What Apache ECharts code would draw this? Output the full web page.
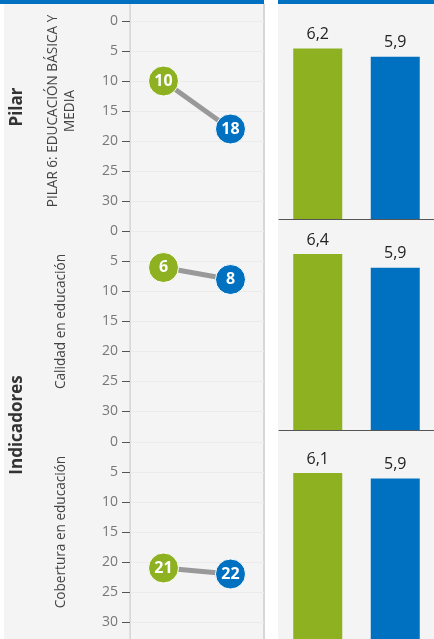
<!DOCTYPE html>
<html>
<head>
<meta charset="utf-8">
<script src="https://cdn.jsdelivr.net/npm/echarts@6/dist/echarts.min.js"></script>
<style>
html,body{margin:0;padding:0;background:#fff;}
#chart{width:434px;height:639px;}
</style>
</head>
<body>
<div id="chart"></div>
<script>
// ---- data ----
const periods = ['Periodo 1', 'Periodo 2'];
const panelTitles = ['PILAR 6: EDUCACIÓN BÁSICA Y\nMEDIA', 'Calidad en educación', 'Cobertura en educación'];
const groupLabels = ['Pilar', 'Indicadores'];
const rankValues = [[10, 18], [6, 8], [21, 22]];
const scoreValues = [[6.2, 5.9], [6.4, 5.9], [6.1, 5.9]];
const rankMin = 0, rankMax = 30, rankStep = 5;
const scoreMax = 7;

const GREEN = '#8db121';
const BLUE = '#0070c0';
const FONT = 'Open Sans';
const colors = [GREEN, BLUE];

const chart = echarts.init(document.getElementById('chart'));

const grid = [], xAxis = [], yAxis = [], series = [];
const panelStep = 210.5;

panelTitles.forEach((title, i) => {
  // left: rank panel
  grid.push({left: 130, width: 134, top: 21 + panelStep * i, height: 180});
  xAxis.push({
    gridIndex: grid.length - 1, type: 'category', data: periods, boundaryGap: true,
    axisLine: {show: false}, axisTick: {show: false}, axisLabel: {show: false}
  });
  yAxis.push({
    gridIndex: grid.length - 1, type: 'value', inverse: true,
    min: rankMin, max: rankMax, interval: rankStep,
    name: title, nameLocation: 'middle', nameRotate: 90,
    nameGap: i === 0 ? 51 : 60,
    nameTextStyle: {fontFamily: FONT, fontSize: 13.6, color: '#444', lineHeight: 17},
    axisLine: {show: false},
    axisTick: {show: true, length: 8, lineStyle: {color: '#555'}},
    axisLabel: {fontFamily: FONT, fontSize: 14, color: '#777', margin: 12},
    splitLine: {show: true, lineStyle: {color: '#ebebeb'}}
  });
  series.push({
    type: 'line', xAxisIndex: grid.length - 1, yAxisIndex: grid.length - 1,
    data: rankValues[i].map((v, k) => ({value: v, itemStyle: {color: colors[k]}})),
    symbol: 'circle', symbolSize: 30,
    itemStyle: {borderColor: '#ffffff', borderWidth: 1},
    lineStyle: {color: '#999', width: 5},
    label: {show: true, position: 'inside', color: '#fff', fontWeight: 'bold', fontSize: 16, fontFamily: FONT},
    silent: true, animation: false
  });
});

panelTitles.forEach((title, i) => {
  // right: score panel
  const baseline = 219 + 211 * i;
  const h = 27.5 * scoreMax;
  grid.push({left: 279, width: 156, top: baseline - h, height: h});
  xAxis.push({
    gridIndex: grid.length - 1, type: 'category', data: periods, boundaryGap: true,
    axisLine: {show: true, lineStyle: {color: '#555', width: 1}},
    axisTick: {show: false}, axisLabel: {show: false}
  });
  yAxis.push({
    gridIndex: grid.length - 1, type: 'value', min: 0, max: scoreMax, show: false,
    splitLine: {show: false}
  });
  series.push({
    type: 'bar', xAxisIndex: grid.length - 1, yAxisIndex: grid.length - 1,
    data: scoreValues[i].map((v, k) => ({value: v, itemStyle: {color: colors[k]}})),
    barWidth: 49,
    label: {
      show: true, position: 'top', distance: 6, color: '#222', fontSize: 16, fontFamily: FONT,
      formatter: p => String(p.value).replace('.', ',')
    },
    silent: true, animation: false
  });
});

const graphic = [
  {type: 'rect', z: -10, shape: {x: 4, y: 4, width: 260, height: 640}, style: {fill: '#f4f4f4'}},
  {type: 'rect', z: -10, shape: {x: 278, y: 4, width: 156, height: 640}, style: {fill: '#f4f4f4'}},
  {type: 'rect', z: -9, shape: {x: 0, y: 0, width: 264, height: 4}, style: {fill: BLUE}},
  {type: 'rect', z: -9, shape: {x: 278, y: 0, width: 156, height: 4}, style: {fill: BLUE}},
  {type: 'rect', z: -9, shape: {x: 263, y: 4, width: 2, height: 640}, style: {fill: '#d6d6d6'}},
  {type: 'rect', z: -9, shape: {x: 129.5, y: 4, width: 1.2, height: 640}, style: {fill: '#cccccc'}},
  {type: 'text', x: 17, y: 107, rotation: Math.PI / 2,
    style: {text: groupLabels[0], fontFamily: FONT, fontSize: 17, fontWeight: 'bold', fill: '#333', align: 'center', verticalAlign: 'middle'}},
  {type: 'text', x: 17, y: 425, rotation: Math.PI / 2,
    style: {text: groupLabels[1], fontFamily: FONT, fontSize: 17, fontWeight: 'bold', fill: '#333', align: 'center', verticalAlign: 'middle'}}
];

chart.setOption({
  animation: false,
  backgroundColor: '#ffffff',
  textStyle: {fontFamily: FONT},
  grid, xAxis, yAxis, series, graphic
});
</script>
</body>
</html>
